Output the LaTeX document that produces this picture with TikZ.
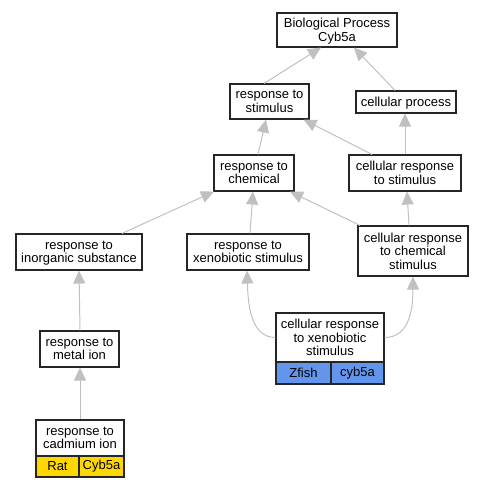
\documentclass[tikz,border=0pt]{standalone}
\usepackage{fontspec}
\setmainfont{Liberation Sans}
\usetikzlibrary{arrows.meta}
\definecolor{edgegray}{RGB}{192,192,192}
\definecolor{ratgold}{RGB}{255,215,0}
\definecolor{fishblue}{RGB}{100,149,237}
\begin{document}
\begin{tikzpicture}[x=1pt,y=-1pt,
  term/.style={draw=black!85, line width=1.1pt, fill=white, inner sep=0pt, align=center,
    font=\fontsize{13}{13.5}\selectfont, text depth=0pt},
  cell/.style={draw=black!85, line width=1.1pt, inner sep=0pt, align=center,
    font=\fontsize{13}{13.5}\selectfont},
  edge/.style={draw=edgegray, line width=1pt, -{Triangle[length=13pt,width=12pt,fill=edgegray,color=edgegray]}}
  ]
\useasboundingbox (0,0) rectangle (480,488);
% nodes
\node[term, minimum width=120pt, minimum height=34pt] (bp) at (337,30) {Biological Process\\Cyb5a};
\node[term, minimum width=79pt, minimum height=35pt] (rs) at (269.5,101.5) {response to\\stimulus};
\node[term, minimum width=100pt, minimum height=22pt] (cp) at (406,102) {cellular process};
\node[term, minimum width=80pt, minimum height=36pt] (rc) at (254,173) {response to\\chemical};
\node[term, minimum width=112pt, minimum height=36pt] (crs) at (405,173) {cellular response\\to stimulus};
\node[term, minimum width=126pt, minimum height=36pt] (ri) at (79,252) {response to\\inorganic substance};
\node[term, minimum width=122pt, minimum height=36pt] (rx) at (248,252) {response to\\xenobiotic stimulus};
\node[term, minimum width=110pt, minimum height=50pt] (crc) at (413,251) {cellular response\\to chemical\\stimulus};
\node[term, minimum width=79pt, minimum height=36pt] (rm) at (79.5,349) {response to\\metal ion};
\node[term, minimum width=88pt, minimum height=36pt] (cad) at (80,438) {response to\\cadmium ion};
\node[cell, fill=ratgold, minimum width=43pt, minimum height=21pt] (cadsp) at (57.5,466.5) {Rat};
\node[cell, fill=ratgold, minimum width=45pt, minimum height=21pt] (cadgn) at (101.5,466.5) {Cyb5a};
\node[term, minimum width=108pt, minimum height=49pt] (crx) at (330,337.5) {cellular response\\to xenobiotic\\stimulus};
\node[cell, fill=fishblue, minimum width=55pt, minimum height=22pt] (crxsp) at (303.5,373) {Zfish};
\node[cell, fill=fishblue, minimum width=53pt, minimum height=22pt] (crxgn) at (357.5,373) {cyb5a};
% edges
\draw[edge] ([xshift=-5.5pt]rs.north) -- ([xshift=-16pt]bp.south);
\draw[edge] ([xshift=-11pt]cp.north) -- ([xshift=17pt]bp.south);
\draw[edge] ([xshift=4pt]rc.north) -- ([xshift=-3.5pt]rs.south);
\draw[edge] ([xshift=-33pt]crs.north) -- ([xshift=34pt]rs.south);
\draw[edge] (crs.north) -- ([xshift=-1pt]cp.south);
\draw[edge] ([xshift=43pt]ri.north) -- ([xshift=-40pt]rc.south);
\draw[edge] ([xshift=2pt]rx.north) -- ([xshift=-1pt]rc.south);
\draw[edge] ([xshift=-53pt]crc.north) -- ([xshift=36pt]rc.south);
\draw[edge] ([xshift=-4pt]crc.north) -- ([xshift=2pt]crs.south);
\draw[edge] ([xshift=0.5pt]rm.north) -- (ri.south);
\draw[edge] (cad.north) -- ([xshift=0.5pt]rm.south);
\draw[edge] (crx.west) .. controls ([xshift=-26pt]crx.west) and ([yshift=-30pt]rx.south) .. ([xshift=-1pt]rx.south);
\draw[edge] (crx.east) .. controls ([xshift=26pt]crx.east) and ([yshift=-30pt]crc.south) .. (crc.south);
\end{tikzpicture}
\end{document}
